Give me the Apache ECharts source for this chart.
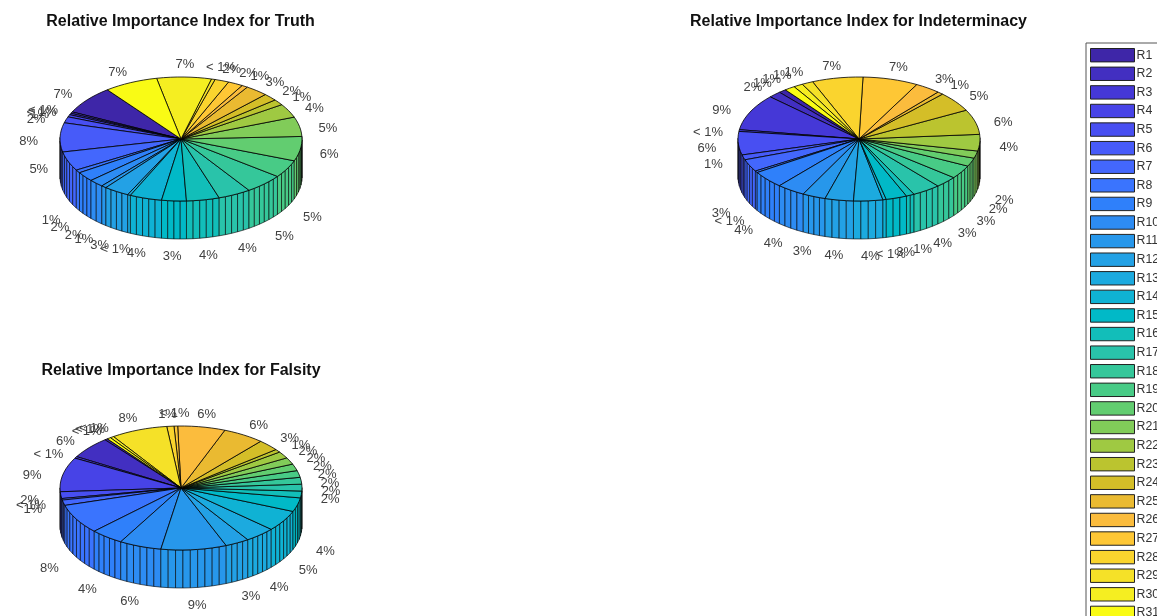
<!DOCTYPE html>
<html><head><meta charset="utf-8">
<style>html,body{margin:0;padding:0;background:#fff;overflow:hidden}#c{width:1157px;height:616px}</style>
<script src="https://cdn.jsdelivr.net/npm/echarts@6/dist/echarts.min.js"></script>
</head><body><div id="c"></div>
<script>
const categories = Array.from({length:31},(_,i)=>'R'+(i+1));
const truthValues = [7.4,.4,.4,.6,1.6,7.6,5,.8,2.5,2,.7,3.4,.4,4.3,3.3,4.4,4.4,5.2,4.6,6.4,5.1,3.6,1.5,1.9,3.05,.8,2,1.9,.49,7.3,7.2];
const indeterminacyValues = [1,1.7,9.49,.45,6.1,1.3,3.2,.45,4.49,3.8,3.1,3.8,3.9,.45,2.8,1.1,3.8,3,3.49,2.2,1.9,4.3,6.49,5.2,.8,3.4,7.4,6.8,1.5,1.25,1.4];
const falsityValues = [.4,5.7,.45,8.9,1.75,.4,1.4,7.7,4.4,5.6,8.7,3.2,4.06,5.4,3.6,1.76,1.76,1.76,1.76,1.76,1.76,1.76,.8,2.9,5.5,6.3,.49,.95,7.5,.49,.49];
const titles = ['Relative Importance Index for Truth','Relative Importance Index for Indeterminacy','Relative Importance Index for Falsity'];
const parula = [[.2422,.1504,.6603],[.2504,.165,.7076],[.2578,.1818,.7511],[.2647,.1978,.7952],[.2706,.2147,.8364],[.2751,.2342,.871],[.2783,.2559,.8991],[.2803,.2782,.9221],[.2813,.3006,.9414],[.281,.3228,.9579],[.2795,.3447,.9717],[.276,.3667,.9829],[.2699,.3892,.9906],[.2602,.4123,.9952],[.244,.4358,.9988],[.2206,.4603,.9973],[.1963,.4847,.9892],[.1834,.5074,.9798],[.1786,.5289,.9682],[.1764,.5499,.952],[.1687,.5703,.9359],[.154,.5902,.9218],[.146,.6091,.9079],[.138,.6276,.8973],[.1248,.6459,.8883],[.1113,.6635,.8763],[.0952,.6798,.8598],[.0689,.6948,.8394],[.0297,.7082,.8163],[.0036,.7203,.7917],[.0067,.7312,.766],[.0433,.7411,.7394],[.0964,.75,.712],[.1408,.7584,.6842],[.1717,.767,.6554],[.1938,.7758,.6251],[.2161,.7843,.5923],[.247,.7918,.5567],[.2906,.7973,.5188],[.3406,.8008,.4789],[.3909,.8029,.4354],[.4456,.8024,.3909],[.5044,.7993,.348],[.5616,.7942,.3045],[.6174,.7876,.2612],[.672,.7793,.2227],[.7242,.7698,.191],[.7738,.7598,.1646],[.8203,.7498,.1535],[.8634,.7406,.1596],[.9035,.733,.1774],[.9393,.7288,.21],[.9728,.7298,.2394],[.9956,.7434,.2371],[.997,.7659,.2199],[.9952,.7893,.2028],[.9892,.8136,.1885],[.9786,.8386,.1766],[.9676,.8639,.1643],[.961,.889,.1537],[.9597,.9135,.1423],[.9628,.9373,.1265],[.9691,.9606,.1064],[.9769,.9839,.0805]];
function colorAt(i,n){const t=i/(n-1)*63,a=Math.floor(t),b=Math.min(63,a+1),f=t-a;
  const c=[0,1,2].map(k=>Math.round(255*(parula[a][k]*(1-f)+parula[b][k]*f)));return `rgb(${c[0]},${c[1]},${c[2]})`;}

const FONT='"Liberation Sans",Arial,sans-serif';
const RX=121,RY=62,H=38,START=127.5;
const pies=[{values:truthValues,cx:181,cy:139},{values:indeterminacyValues,cx:859,cy:139},{values:falsityValues,cx:181,cy:488}];
const rad=d=>d*Math.PI/180;

function sliceSeries(pie,i){
  const total=pie.values.reduce((a,b)=>a+b,0);
  const before=pie.values.slice(0,i).reduce((a,b)=>a+b,0);
  const frac=pie.values[i]/total;
  const a0=START+before/total*360, a1=a0+frac*360;
  const color=colorAt(i,categories.length);
  return {
    type:'custom',name:categories[i],coordinateSystem:'none',silent:true,animation:false,clip:false,
    itemStyle:{color},
    data:[[pie.values[i]]],
    renderItem(){
      const P=(deg,dz=0)=>[pie.cx+RX*Math.cos(rad(deg)),pie.cy-RY*Math.sin(rad(deg))+dz];
      const n=Math.max(1,Math.ceil(frac*100));
      const angs=[];for(let k=0;k<=n;k++)angs.push(a0+(a1-a0)*k/n);
      const children=[];
      for(let k=0;k<n;k++){
        const m=(angs[k]+angs[k+1])/2;
        if(Math.sin(rad(m))<0.02){
          children.push({type:'polygon',z2:1,shape:{points:[P(angs[k]),P(angs[k+1]),P(angs[k+1],H),P(angs[k],H)]},
            style:{fill:color,stroke:'#000',lineWidth:0.6}});
        }
      }
      children.push({type:'polygon',z2:5,shape:{points:[[pie.cx,pie.cy]].concat(angs.map(a=>P(a)))},
        style:{fill:color,stroke:'#000',lineWidth:0.8,lineJoin:'round'}});
      const mid=(((a0+a1)/2)%360+360)%360;
      const pct=Math.round(frac*100);
      const front=mid>203&&mid<347;
      const c=Math.cos(rad(mid));
      children.push({type:'text',z2:20,style:{
        x:pie.cx+(c>0?1.24:1.26)*RX*c,
        y:pie.cy-1.2*RY*Math.sin(rad(mid))+(front?H+5:4*c*c),
        text:pct<1?'< 1%':pct+'%',align:'center',verticalAlign:'middle',
        font:'13px '+FONT,fill:'#404040'}});
      return {type:'group',children};
    }
  };
}
const series=[];
pies.forEach(p=>p.values.forEach((_,i)=>series.push(sliceSeries(p,i))));

const chart=echarts.init(document.getElementById('c'),null,{width:1157,height:616,renderer:'canvas'});
chart.setOption({
  animation:false,backgroundColor:'#fff',
  title:[[180.5,14],[858.5,14],[181,363]].map((p,i)=>({text:titles[i],left:p[0],top:p[1],textAlign:'center',padding:0,
    textStyle:{fontFamily:FONT,fontSize:16,fontWeight:'bold',color:'#111'}})),
  legend:{orient:'vertical',left:1086,top:43,height:900,padding:[5,60,5,4],itemWidth:44,itemHeight:13.4,itemGap:4.19,
    icon:'rect',data:categories,selectedMode:false,backgroundColor:'#fff',borderColor:'#555',borderWidth:1,
    itemStyle:{borderColor:'#222',borderWidth:1},
    textStyle:{fontFamily:FONT,fontSize:12.3,color:'#333',padding:[0,0,0,-3]}},
  series
});
</script></body></html>
